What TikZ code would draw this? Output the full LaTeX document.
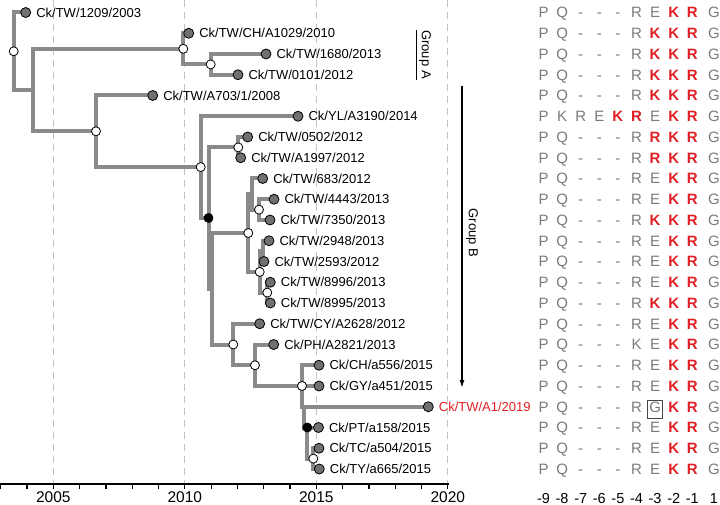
\documentclass[tikz,border=0pt]{standalone}
\usepackage{fontspec}
\setmainfont{Liberation Sans}
\usetikzlibrary{arrows.meta}
\definecolor{edgegray}{RGB}{138,138,138}
\definecolor{tipgray}{RGB}{112,112,112}
\definecolor{gridgray}{RGB}{195,195,195}
\definecolor{seqgray}{RGB}{122,122,122}
\definecolor{seqred}{RGB}{224,32,36}
\definecolor{boxgray}{RGB}{70,70,70}
\begin{document}
\begin{tikzpicture}[x=1pt,y=-1pt,
  edge/.style={draw=edgegray, line width=4pt, line cap=rect},
  tipdot/.style={circle, draw=black, fill=tipgray, line width=0.8pt, minimum size=10pt, inner sep=0pt},
  opendot/.style={circle, draw=black, fill=white, line width=0.8pt, minimum size=9pt, inner sep=0pt},
  blackdot/.style={circle, draw=black, fill=black, line width=0.8pt, minimum size=9pt, inner sep=0pt},
  lab/.style={anchor=west, font=\fontsize{13}{14}\selectfont, inner sep=0pt, xshift=5pt, text height=9.3pt, text depth=0pt},
  seqg/.style={font=\fontsize{15}{18}\selectfont, text=seqgray, inner sep=0pt, text height=10.8pt, text depth=0pt},
  seqr/.style={font=\bfseries\fontsize{15}{18}\selectfont, text=seqred, inner sep=0pt, text height=10.8pt, text depth=0pt},
  poslab/.style={font=\fontsize{14.5}{16}\selectfont, inner sep=0pt, text height=10.4pt, text depth=0pt},
  yearlab/.style={font=\fontsize{15.5}{17}\selectfont, inner sep=0pt, text height=11.1pt, text depth=0pt},
  gridline/.style={draw=gridgray, line width=1pt, dash pattern=on 7pt off 5pt},
  axisline/.style={draw=black, line width=1.4pt},
  grouplab/.style={font=\fontsize{13}{15}\selectfont, rotate=-90, inner sep=0pt},
  groupline/.style={draw=black, line width=1.3pt}
]
\useasboundingbox (0,0) rectangle (720,505);

% grid lines
\foreach \k/\xx in {1/53.3,2/184.8,3/316.3,4/447.8}{
  \coordinate (gt\k) at (\xx,0);
  \coordinate (gb\k) at (\xx,484);
  \draw[gridline] (gt\k) -- (gb\k);
}

% axis
\coordinate (ax0) at (0,484);
\coordinate (ax1) at (448.5,484);
\draw[axisline] (ax0) -- (ax1);
\foreach \k in {0,...,17}{
  \coordinate (tk\k) at ({0.7+26.3*\k},484);
  \draw[axisline, line width=1.2pt] (tk\k) -- ++(0,4.5);
}
\foreach \yr/\xx in {2005/53.3,2010/184.8,2015/316.3,2020/447.8}{
  \node[yearlab] (yr\yr) at (\xx,497) {\yr};
}

% tree coordinates: tips
\coordinate (t0) at (25.7,12.5);
\coordinate (t1) at (188.7,33.25);
\coordinate (t2) at (266,54);
\coordinate (t3) at (238,74.75);
\coordinate (t4) at (152.7,95.5);
\coordinate (t5) at (298,116.25);
\coordinate (t6) at (247.7,137);
\coordinate (t7) at (240.7,157.75);
\coordinate (t8) at (262.7,178.5);
\coordinate (t9) at (274,199.25);
\coordinate (t10) at (270,220);
\coordinate (t11) at (269,240.75);
\coordinate (t12) at (264,261.5);
\coordinate (t13) at (270.3,282.25);
\coordinate (t14) at (270.3,303);
\coordinate (t15) at (259.7,323.75);
\coordinate (t16) at (273.7,344.5);
\coordinate (t17) at (319,365.25);
\coordinate (t18) at (319,386);
\coordinate (t19) at (428.3,406.75);
\coordinate (t20) at (318.5,427.5);
\coordinate (t21) at (319,448.25);
\coordinate (t22) at (319.3,469);
% internal nodes
\coordinate (r0) at (13.7,51.3);
\coordinate (n1) at (33.3,90.05);
\coordinate (GA) at (183.3,48.8);
\coordinate (n3) at (210.7,64.4);
\coordinate (n2) at (96,131.3);
\coordinate (nB) at (200.7,167.1);
\coordinate (nK) at (208.5,218.0);
\coordinate (n05) at (238.3,147.4);
\coordinate (nM) at (212,288.7);
\coordinate (n683) at (248.3,233.0);
\coordinate (nA) at (251.5,194.1);
\coordinate (n44) at (259,209.6);
\coordinate (n29) at (259.7,271.9);
\coordinate (nC) at (262.5,251.1);
\coordinate (n89) at (267.3,292.6);
\coordinate (nCY) at (233.3,344.5);
\coordinate (nPH) at (255,365.25);
\coordinate (n15) at (302,386);
\coordinate (nQ) at (304,406.75);
\coordinate (nP) at (307.3,427.5);
\coordinate (nTT) at (313.3,458.6);

% edges
\foreach \a/\b in {r0/t0,r0/n1,n1/GA,n1/n2,GA/t1,GA/n3,n3/t2,n3/t3,
  n2/t4,n2/nB,nB/t5,nB/nK,nK/n05,nK/nM,n05/t6,n05/t7,nM/n683,nM/nCY,
  n683/nA,n683/n29,nA/t8,nA/n44,n44/t9,n44/t10,n29/nC,n29/n89,nC/t11,nC/t12,
  n89/t13,n89/t14,nCY/t15,nCY/nPH,nPH/t16,nPH/n15,n15/t17,n15/t18,n15/nQ,
  nQ/t19,nQ/nP,nP/t20,nP/nTT,nTT/t21,nTT/t22}{
  \draw[edge] (\a) |- (\b);
}

% internal node markers
\foreach \n in {r0,GA,n3,n2,nB,n05,n683,n44,n29,n89,nCY,nPH,n15,nTT}{
  \node[opendot] (c\n) at (\n) {};
}
\foreach \n in {nK,nP}{
  \node[blackdot] (c\n) at (\n) {};
}

% tips and labels
\foreach \i/\txt in {0/{Ck/TW/1209/2003},1/{Ck/TW/CH/A1029/2010},2/{Ck/TW/1680/2013},
  3/{Ck/TW/0101/2012},4/{Ck/TW/A703/1/2008},5/{Ck/YL/A3190/2014},6/{Ck/TW/0502/2012},
  7/{Ck/TW/A1997/2012},8/{Ck/TW/683/2012},9/{Ck/TW/4443/2013},10/{Ck/TW/7350/2013},
  11/{Ck/TW/2948/2013},12/{Ck/TW/2593/2012},13/{Ck/TW/8996/2013},14/{Ck/TW/8995/2013},
  15/{Ck/TW/CY/A2628/2012},16/{Ck/PH/A2821/2013},17/{Ck/CH/a556/2015},
  18/{Ck/GY/a451/2015},20/{Ck/PT/a158/2015},21/{Ck/TC/a504/2015},22/{Ck/TY/a665/2015}}{
  \node[tipdot] (d\i) at (t\i) {};
  \node[lab] (l\i) at (d\i.east) {\txt};
}
\node[tipdot] (d19) at (t19) {};
\node[lab, text=seqred] (l19) at (d19.east) {Ck/TW/A1/2019};

% group annotations
\coordinate (gA1) at (416.5,30);
\coordinate (gA2) at (416.5,80);
\draw[groupline] (gA1) -- (gA2);
\node[grouplab] (gAt) at (425,54.5) {Group A};
\coordinate (gB1) at (462,86);
\coordinate (gB2) at (462,388);
\draw[groupline, -{Latex[length=8pt,width=5pt]}] (gB1) -- (gB2);
\node[grouplab] (gBt) at (472,233) {Group B};

% sequences
\def\colxs{{543.5,562.1,580.7,599.3,617.9,636.5,655.1,673.7,692.3,714}}
\def\rowA{P/g,Q/g,-/g,-/g,-/g,R/g,E/g,K/r,R/r,G/g}
\def\rowB{P/g,Q/g,-/g,-/g,-/g,R/g,K/r,K/r,R/r,G/g}
\def\rowC{P/g,K/g,R/g,E/g,K/r,R/r,E/g,K/r,R/r,G/g}
\def\rowD{P/g,Q/g,-/g,-/g,-/g,R/g,R/r,K/r,R/r,G/g}
\def\rowE{P/g,Q/g,-/g,-/g,-/g,K/g,E/g,K/r,R/r,G/g}
\def\rowF{P/g,Q/g,-/g,-/g,-/g,R/g,G/g,K/r,R/r,G/g}
\foreach \r/\s in {0/\rowA,1/\rowB,2/\rowB,3/\rowB,4/\rowB,5/\rowC,6/\rowD,7/\rowD,
  8/\rowA,9/\rowA,10/\rowB,11/\rowA,12/\rowA,13/\rowA,14/\rowB,15/\rowA,16/\rowE,
  17/\rowA,18/\rowA,19/\rowF,20/\rowA,21/\rowA,22/\rowA}{
  \edef\curlist{\s}
  \foreach \ch/\cl [count=\i] in \curlist {
    \pgfmathsetmacro{\cx}{\colxs[\i-1]}
    \node[seq\cl] (s\r-\i) at (\cx,{12.5+20.75*\r}) {\ch};
  }
}
\draw[draw=boxgray, line width=0.9pt] (647.5,400.3) rectangle (662.2,418.3);

% position labels
\foreach \p/\i in {-9/1,-8/2,-7/3,-6/4,-5/5,-4/6,-3/7,-2/8,-1/9,1/10}{
  \pgfmathsetmacro{\cx}{\colxs[\i-1]}
  \node[poslab] (p\i) at (\cx,498) {\p};
}
\end{tikzpicture}
\end{document}
